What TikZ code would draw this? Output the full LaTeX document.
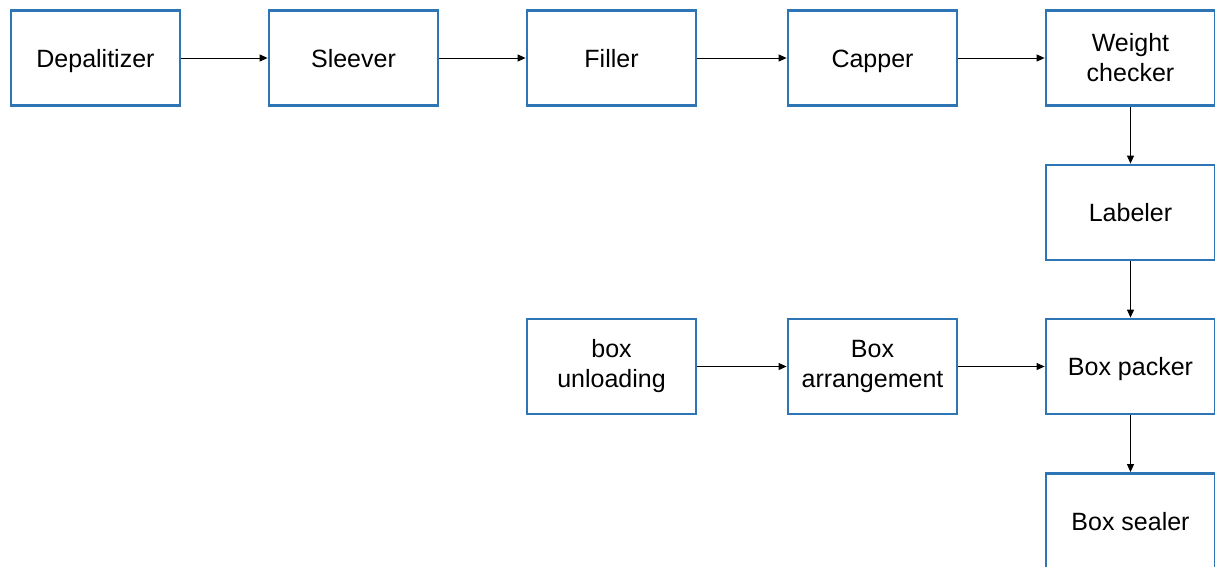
\documentclass[tikz,border=0pt]{standalone}
\usepackage{fontspec}
\setmainfont{Liberation Sans}
\usetikzlibrary{arrows.meta}
\definecolor{boxblue}{RGB}{46,117,182}
\begin{document}
\begin{tikzpicture}[x=1pt,y=-1pt,
  stage/.style={draw=boxblue, line width=2.8pt, fill=white, minimum width=169pt,
    minimum height=95pt, align=center, inner sep=0pt,
    font=\fontsize{25}{30}\selectfont},
  oneline/.style={stage, text height=18pt, text depth=0pt},
  flow/.style={draw=black, line width=1pt, -{Triangle[length=8pt,width=7pt]}}]
  \useasboundingbox (0,0) rectangle (1215,566);
  \clip (0,0) rectangle (1215,566);
  \node[oneline] (depal) at (95.5,58) {Depalitizer};
  \node[oneline] (sleever) at (353.5,58) {Sleever};
  \node[oneline] (filler) at (611.5,58) {Filler};
  \node[oneline] (capper) at (872.5,58) {Capper};
  \node[stage] (weight) at (1130.5,58) {Weight\\checker};
  \node[oneline] (labeler) at (1130.5,212.5) {Labeler};
  \node[stage] (unload) at (611.5,366.5) {box\\unloading};
  \node[stage] (arrange) at (872.5,366.5) {Box\\arrangement};
  \node[oneline] (packer) at (1130.5,366.5) {Box packer};
  \node[oneline] (sealer) at (1130.5,521) {Box sealer};
  \draw[flow] (depal) -- (sleever);
  \draw[flow] (sleever) -- (filler);
  \draw[flow] (filler) -- (capper);
  \draw[flow] (capper) -- (weight);
  \draw[flow] (weight) -- (labeler);
  \draw[flow] (labeler) -- (packer);
  \draw[flow] (unload) -- (arrange);
  \draw[flow] (arrange) -- (packer);
  \draw[flow] (packer) -- (sealer);
\end{tikzpicture}
\end{document}
